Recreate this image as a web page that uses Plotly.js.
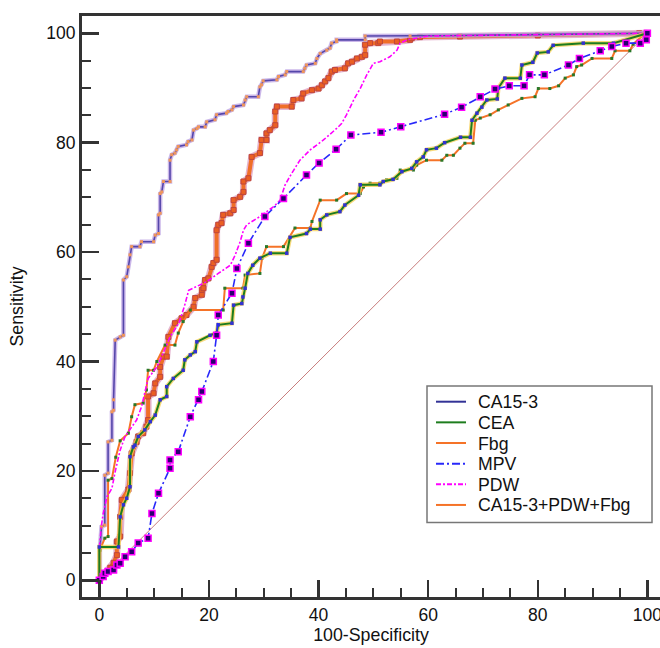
<!DOCTYPE html>
<html>
<head>
<meta charset="utf-8">
<script src="https://cdn.plot.ly/plotly-3.0.1.min.js"></script>
<style>html,body{margin:0;padding:0;background:#fff;}#chart{width:660px;height:648px;}</style>
</head>
<body>
<div id="chart"></div>
<script>
// ---- data ----
const seriesNames = ["CA15-3", "CEA", "Fbg", "MPV", "PDW", "CA15-3+PDW+Fbg"];

const ca153_x = [0,0.1,0.1,0.4,1.0,1.0,1.6,1.6,2.3,2.3,2.6,2.6,2.9,3.8,4.4,4.4,5.0,5.3,5.6,5.9,7.4,7.7,9.9,10.2,10.8,10.8,11.1,11.1,11.4,11.7,12.9,12.9,13.2,13.8,14.1,14.4,15.9,16.2,16.9,17.2,17.8,18.1,19.3,19.6,21.1,21.4,23.2,23.5,24.2,24.5,26.3,26.6,26.9,29.0,29.3,29.6,29.9,32.4,32.7,33.9,34.2,37.2,37.5,37.8,39.4,39.7,40.3,41.5,42.1,42.4,43.3,43.3,48.5,48.5,56.7,65.8,100];
const ca153_y = [0,0,5.5,9.8,10.1,19.2,19.6,25.3,25.6,30.8,31.1,33.0,43.9,44.5,44.8,54.9,55.5,57.3,59.5,61.0,61.0,61.9,61.9,63.1,63.4,66.8,67.1,70.7,71.0,72.9,72.9,76.8,77.8,78.1,78.7,79.3,79.6,80.2,80.5,82.3,82.6,82.9,82.9,83.8,84.2,85.1,85.4,85.7,86.0,86.6,86.9,87.8,88.4,88.4,90.2,90.6,91.3,91.5,92.1,92.4,93.0,93.0,93.6,94.2,94.5,95.4,96.3,96.9,97.3,98.2,98.5,98.8,98.8,99.5,99.5,99.6,100];

const cea_x = [0,0,3.5,3.8,4.4,5.0,5.6,5.6,6.2,6.5,7.1,8.3,9.3,10.2,11.1,12.3,12.3,13.5,15.3,15.6,16.6,17.5,17.8,20.2,21.4,21.7,24.2,24.5,26.0,26.2,26.6,27.1,28.0,29.3,31.2,34.2,34.8,37.8,38.5,40.3,40.3,41.5,43.9,44.8,47.3,47.6,51.2,51.8,53.6,55.2,57.0,57.9,59.1,59.7,61.5,63.0,65.9,67.7,68.0,68.9,69.8,70.7,72.6,72.8,74.0,76.8,77.1,79.1,79.9,81.9,82.8,88.3,93.8,100];
const cea_y = [0,6.1,6.1,11.6,13.8,15.0,17.1,22.6,24.4,24.7,26.3,27.5,29.0,30.2,33.0,33.6,35.4,36.9,38.4,40.3,41.2,41.8,43.6,44.8,45.2,46.7,47.0,50.3,50.6,51.8,53.4,56.1,57.6,58.9,59.8,59.8,62.7,63.4,64.2,64.2,65.9,66.8,67.4,68.6,70.4,72.3,72.3,72.9,73.3,74.7,75.3,76.5,77.4,78.7,79.0,80.0,81.0,81.0,84.1,85.4,86.5,87.8,88.0,90.0,91.8,91.8,94.2,94.7,96.4,96.6,97.8,98.2,98.2,100];

const fbg_x = [0,0.1,1.0,1.6,1.6,2.3,3.0,3.8,5.3,5.9,6.5,8.0,8.6,8.9,9.9,10.5,12.0,13.8,14.4,15.3,16.6,22.6,22.9,26.2,26.6,29.3,29.7,30.5,33.6,35.7,38.5,38.8,40.3,43.3,45.1,47.6,48.2,49.4,51.2,52.4,54.3,54.9,57.3,57.9,59.7,62.5,63.4,64.6,65.8,66.7,68.2,68.6,69.5,71.3,72.8,74.6,77.1,79.5,80.1,82.2,83.8,85.0,86.5,87.1,88.0,89.9,93.5,94.1,96.8,97.4,99.6,100];
const fbg_y = [0,5.5,7.7,8.0,18.3,18.6,22.5,25.5,26.9,29.9,32.1,32.4,34.8,38.4,38.4,40.0,43.0,43.0,45.2,47.3,49.4,49.4,53.4,53.4,55.8,56.1,58.9,61.0,61.0,64.4,64.4,65.6,69.5,69.5,70.7,70.7,71.9,72.6,72.6,73.2,73.5,75.0,75.0,75.9,76.8,76.8,77.7,77.7,79.0,79.9,79.9,84.1,84.5,85.1,86.0,86.9,88.1,88.4,89.9,89.9,90.4,91.8,92.4,93.9,94.2,95.4,95.4,96.8,96.8,98.0,100,100];

const mpv_x = [0,0.7,1.0,1.6,2.6,3.2,3.8,4.7,5.9,7.1,8.9,9.6,10.8,12.9,12.9,14.4,16.6,18.1,18.7,20.8,21.4,21.7,24.2,25.1,27.2,30.2,33.6,37.8,40.1,43.2,45.9,51.4,55.0,63.0,66.1,69.5,72.2,74.8,77.5,78.5,81.2,85.6,87.6,91.4,93.5,96.1,98.7,99.8,100];
const mpv_y = [0,0.7,1.3,1.6,1.9,2.8,3.1,4.3,5.2,6.8,7.7,12.2,15.9,20.5,22.0,23.5,29.9,33.0,34.5,40.0,44.8,48.5,52.5,57.0,61.6,66.5,69.8,74.1,76.3,78.8,81.4,81.9,82.9,85.2,86.5,88.4,89.8,90.4,90.4,92.4,92.4,94.2,95.4,96.8,97.6,98.2,98.2,98.8,100];

const pdw_x = [0,0,0.4,0.7,1.4,2.3,2.9,3.8,4.7,5.6,6.8,7.7,8.3,8.9,10.5,11.4,12.3,12.9,13.8,14.5,15.5,16.3,17.5,19.6,21.7,23.9,24.8,25.7,26.3,26.9,29.3,31.8,33.0,33.9,35.1,36.6,38.5,40.9,43.3,44.2,45.1,46.4,47.6,48.8,50.0,51.2,53.0,54.3,54.9,56.1,60.0,100];
const pdw_y = [0,6.0,10.1,12.2,15.3,16.8,19.9,23.8,26.3,27.5,29.3,31.7,34.2,36.9,39.0,40.9,43.0,44.5,45.8,47.0,50.0,53.0,53.6,54.6,56.1,57.6,59.5,61.9,64.0,65.0,66.5,68.3,69.5,72.3,74.4,76.8,78.7,80.5,82.6,83.5,85.1,87.8,89.9,92.4,94.5,94.8,95.7,96.9,98.2,98.8,99.5,100];

const comb_x = [0,1.0,2.0,2.6,3.2,3.2,3.8,3.8,4.1,5.3,5.6,5.9,6.8,7.1,8.0,8.6,8.9,8.9,9.9,10.2,11.1,11.1,11.7,12.3,12.6,13.8,15.0,15.9,17.2,17.5,18.7,18.7,19.0,19.3,19.9,20.5,20.8,21.4,21.4,21.7,22.3,22.6,23.9,24.5,24.5,25.7,26.3,26.3,27.2,27.8,29.3,29.6,30.5,30.5,31.1,32.1,32.1,32.4,35.1,35.4,36.9,37.2,38.8,40.0,40.6,41.2,41.8,42.4,43.0,44.8,45.4,46.1,47.0,47.9,48.5,48.5,49.4,50.9,51.2,54.3,56.7,57.0,58.5,65.8,80.0,98.5,100];
const comb_y = [0,1.3,2.3,3.2,4.6,7.1,8.0,11.6,14.7,16.6,19.6,23.2,25.3,26.3,26.9,28.1,29.3,33.6,34.2,36.0,37.2,39.0,40.9,40.9,44.5,47.0,47.9,48.5,50.0,51.6,52.2,53.1,53.4,54.9,55.2,57.3,58.0,58.6,64.0,65.0,65.3,66.8,67.1,67.7,69.5,70.1,71.0,72.9,73.5,77.4,78.1,80.5,80.5,81.7,82.3,83.2,85.7,86.6,86.6,87.8,88.1,89.0,89.6,89.9,90.5,91.2,91.8,93.0,93.3,93.6,94.5,94.8,95.4,95.7,96.0,97.9,98.2,98.2,98.5,98.5,98.8,99.1,99.3,99.4,99.6,100,100];

const diag_x = [0, 100];
const diag_y = [0, 100];

// ---- styles ----
const legendStyles = [
  {color: 'rgb(50,50,150)', width: 2, dash: 'solid'},
  {color: 'rgb(30,125,30)', width: 2, dash: 'solid'},
  {color: 'rgb(245,115,40)', width: 2, dash: 'solid'},
  {color: 'rgb(40,40,250)', width: 2, dash: '8px,3px,2px,3px'},
  {color: 'rgb(255,0,255)', width: 2, dash: '5px,2px,2px,2px'},
  {color: 'rgb(245,115,40)', width: 2, dash: 'solid'}
];

// ---- traces ----
const traces = [];
traces.push({x: diag_x, y: diag_y, mode: 'lines', showlegend: false, hoverinfo: 'skip',
  line: {color: 'rgb(200,125,125)', width: 1}});

// combined (thick orange-red squares)
traces.push({x: comb_x, y: comb_y, mode: 'lines', showlegend: false, hoverinfo: 'skip',
  line: {color: 'rgba(205,120,170,0.55)', width: 7}});
traces.push({x: comb_x, y: comb_y, mode: 'lines', name: seriesNames[5], showlegend: false,
  line: {color: 'rgb(240,110,40)', width: 4}});
traces.push({x: comb_x, y: comb_y, mode: 'markers', showlegend: false, hoverinfo: 'skip',
  marker: {symbol: 'square', size: 5, color: 'rgb(235,95,35)', line: {color: 'rgb(190,70,60)', width: 1}}});

// CA15-3
traces.push({x: ca153_x, y: ca153_y, mode: 'lines', showlegend: false, hoverinfo: 'skip',
  line: {color: 'rgba(190,165,228,0.8)', width: 4.5}});
traces.push({x: ca153_x, y: ca153_y, mode: 'lines', name: seriesNames[0], showlegend: false,
  line: {color: 'rgb(85,70,170)', width: 1.6}});
traces.push({x: ca153_x, y: ca153_y, mode: 'markers', showlegend: false, hoverinfo: 'skip',
  marker: {symbol: 'square', size: 3, color: 'rgb(240,150,90)'}});

// Fbg
traces.push({x: fbg_x, y: fbg_y, mode: 'lines', name: seriesNames[2], showlegend: false,
  line: {color: 'rgb(245,115,40)', width: 2}});
traces.push({x: fbg_x, y: fbg_y, mode: 'markers', showlegend: false, hoverinfo: 'skip',
  marker: {symbol: 'square', size: 3, color: 'rgb(40,120,40)'}});

// PDW
traces.push({x: pdw_x, y: pdw_y, mode: 'lines', name: seriesNames[4], showlegend: false,
  line: {color: 'rgb(255,0,255)', width: 1.6, dash: '5px,2px,2px,2px'}});

// CEA
traces.push({x: cea_x, y: cea_y, mode: 'lines', showlegend: false, hoverinfo: 'skip',
  line: {color: 'rgba(245,205,80,0.75)', width: 4.5}});
traces.push({x: cea_x, y: cea_y, mode: 'lines', name: seriesNames[1], showlegend: false,
  line: {color: 'rgb(30,125,30)', width: 2}});
traces.push({x: cea_x, y: cea_y, mode: 'markers', showlegend: false, hoverinfo: 'skip',
  marker: {symbol: 'square', size: 3.5, color: 'rgb(50,50,210)'}});

// MPV
traces.push({x: mpv_x, y: mpv_y, mode: 'lines', name: seriesNames[3], showlegend: false,
  line: {color: 'rgb(40,40,250)', width: 1.6, dash: '8px,3px,2px,3px'}});
traces.push({x: mpv_x, y: mpv_y, mode: 'markers', showlegend: false, hoverinfo: 'skip',
  marker: {symbol: 'square', size: 6, color: 'rgb(40,0,110)', line: {color: 'rgb(255,0,255)', width: 1.5}}});

// ---- legend box (drawn as shapes + text annotations) ----
const plotL = 82, plotW = 578, plotB = 597, plotH = 581;
const px2x = p => (p - plotL) / plotW;
const px2y = p => (plotB - p) / plotH;
const shapes = [{type: 'rect', xref: 'paper', yref: 'paper',
  x0: px2x(427), x1: px2x(652), y0: px2y(522.5), y1: px2y(386),
  fillcolor: '#fff', line: {color: '#777', width: 1.5}}];
const annotations = [];
seriesNames.forEach((name, i) => {
  const cy = 401.7 + i * 20.65;
  shapes.push({type: 'line', xref: 'paper', yref: 'paper',
    x0: px2x(436), x1: px2x(466), y0: px2y(cy), y1: px2y(cy), line: legendStyles[i]});
  annotations.push({xref: 'paper', yref: 'paper', x: px2x(476), y: px2y(cy + 0.5),
    xanchor: 'left', yanchor: 'middle', showarrow: false, text: name,
    font: {size: 17.7, color: '#111'}});
});

const axisCommon = {
  showgrid: false, zeroline: false, showline: true, linecolor: '#333', linewidth: 3,
  ticks: 'inside', ticklen: 17, tickwidth: 2.5, tickcolor: '#333',
  tick0: 0, dtick: 20, ticklabeloverflow: 'allow',
  minor: {tick0: 0, dtick: 5, ticks: 'inside', ticklen: 9, tickwidth: 2, tickcolor: '#333', showgrid: false},
  tickfont: {size: 17.5, color: '#111'}
};

const layout = {
  width: 660, height: 648,
  margin: {l: 82, r: 0, t: 16, b: 51, pad: 0},
  paper_bgcolor: '#fff', plot_bgcolor: '#fff',
  font: {family: 'Liberation Sans, Arial, sans-serif', size: 17, color: '#111'},
  showlegend: false,
  xaxis: Object.assign({}, axisCommon, {range: [-3.16, 102.3], mirror: true,
    title: {text: '100-Specificity', font: {size: 17.8}, standoff: 5}}),
  yaxis: Object.assign({}, axisCommon, {range: [-3.05, 103.16], mirror: false,
    title: {text: 'Sensitivity', font: {size: 17.8}, standoff: 19}}),
  shapes: shapes,
  annotations: annotations
};

Plotly.newPlot('chart', traces, layout, {staticPlot: true, displayModeBar: false});
</script>
</body>
</html>
